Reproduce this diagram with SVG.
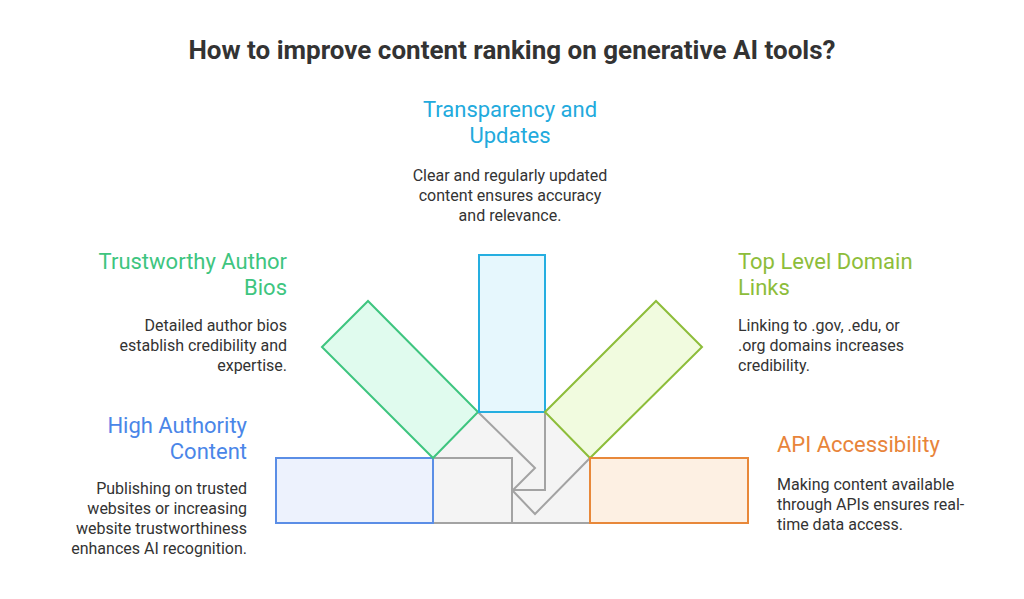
<svg xmlns="http://www.w3.org/2000/svg" width="1024" height="599" viewBox="0 0 1024 599">
<style>
text{font-family:Roboto,"Liberation Sans",sans-serif}
.h{font-size:22px}
.d{font-size:16px;fill:#333}
.g{fill:none;stroke:#a3a3a3;stroke-width:2}
</style>
<rect width="1024" height="599" fill="#fff"/>
<text x="512" y="59" text-anchor="middle" font-size="26" font-weight="bold" fill="#333">How to improve content ranking on generative AI tools?</text>
<g id="center">
<polygon points="433,458 478,412 545,412 590,458 590,523 433,523" fill="#f4f4f4"/>
</g>
<g id="connectors">
<polyline class="g" points="433,458 512,458 512,523"/>
<polyline class="g" points="478,412 535,468 513,490"/>
<polyline class="g" points="545,412 545,490 513,490"/>
<polyline class="g" points="590,458 535,514 513,491"/>
<line class="g" x1="433" y1="523" x2="590" y2="523"/>
</g>
<g id="high-authority">
<rect x="276" y="458" width="157" height="65" fill="#edf2fd" stroke="#5b8ee6" stroke-width="2"/>
<text class="h" x="247" y="433" text-anchor="end" fill="#4a86e8">High Authority</text>
<text class="h" x="247" y="459" text-anchor="end" fill="#4a86e8">Content</text>
<text class="d" x="247" y="494" text-anchor="end">Publishing on trusted</text>
<text class="d" x="247" y="514" text-anchor="end">websites or increasing</text>
<text class="d" x="247" y="534" text-anchor="end">website trustworthiness</text>
<text class="d" x="247" y="554" text-anchor="end">enhances AI recognition.</text>
</g>
<g id="author-bios">
<polygon points="322,347 368,301 478,412 433,458" fill="#e0fbee" stroke="#3ec57f" stroke-width="2"/>
<text class="h" x="287" y="269" text-anchor="end" fill="#3ec57f">Trustworthy Author</text>
<text class="h" x="287" y="295" text-anchor="end" fill="#3ec57f">Bios</text>
<text class="d" x="287" y="331" text-anchor="end">Detailed author bios</text>
<text class="d" x="287" y="351" text-anchor="end">establish credibility and</text>
<text class="d" x="287" y="371" text-anchor="end">expertise.</text>
</g>
<g id="transparency">
<rect x="479" y="255" width="66" height="157" fill="#e6f7fd" stroke="#25aee0" stroke-width="2"/>
<text class="h" x="510" y="117" text-anchor="middle" fill="#22aadd">Transparency and</text>
<text class="h" x="510" y="143" text-anchor="middle" fill="#22aadd">Updates</text>
<text class="d" x="510" y="181" text-anchor="middle">Clear and regularly updated</text>
<text class="d" x="510" y="201" text-anchor="middle">content ensures accuracy</text>
<text class="d" x="510" y="221" text-anchor="middle">and relevance.</text>
</g>
<g id="tld-links">
<polygon points="545,412 656,301 702,347 590,458" fill="#f1fbdf" stroke="#8dbd3a" stroke-width="2"/>
<text class="h" x="738" y="269" fill="#8dbd3a">Top Level Domain</text>
<text class="h" x="738" y="295" fill="#8dbd3a">Links</text>
<text class="d" x="738" y="331">Linking to .gov, .edu, or</text>
<text class="d" x="738" y="351">.org domains increases</text>
<text class="d" x="738" y="371">credibility.</text>
</g>
<g id="api">
<rect x="590" y="458" width="158" height="65" fill="#fdf0e3" stroke="#e8883a" stroke-width="2"/>
<text class="h" x="777" y="452" fill="#e8843a">API Accessibility</text>
<text class="d" x="777" y="490">Making content available</text>
<text class="d" x="777" y="510">through APIs ensures real-</text>
<text class="d" x="777" y="530">time data access.</text>
</g>
</svg>
